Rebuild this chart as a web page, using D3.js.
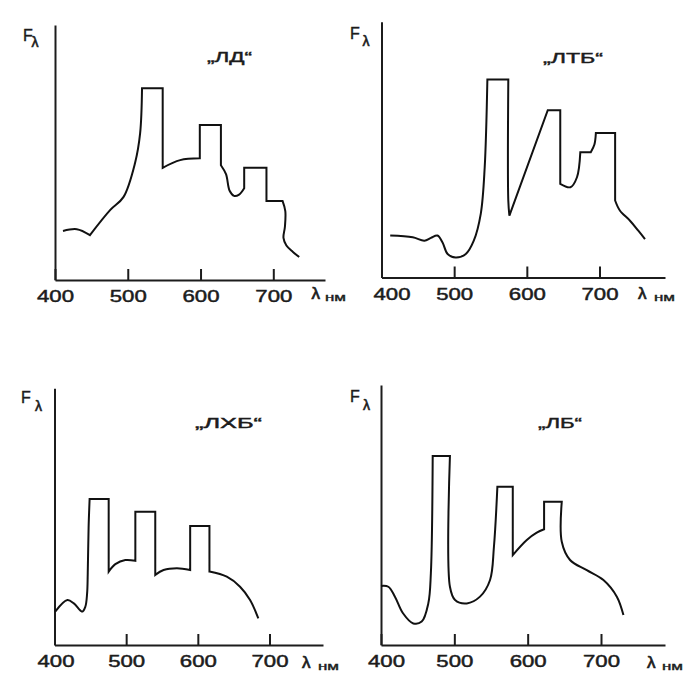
<!DOCTYPE html>
<html><head><meta charset="utf-8">
<script src="https://cdn.jsdelivr.net/npm/d3@7"></script>
<style>body{margin:0;background:#fff}svg{display:block}</style>
</head><body>
<svg id="c" width="700" height="693"></svg>
<script>
// ---- data (λ in nm, relative F in 0..100; third item 1 = sharp corner) ----
const titles = ["„ЛД“", "„ЛТБ“", "„ЛХБ“", "„ЛБ“"];
const tickLabels = [400, 500, 600, 700];
const axisUnit = "нм";

const spectrumLD = [
  [411,19.2],[430,19.9],[448,17.6,1],[476,27.5],[494,32.5],[510,45.9],[517,57.6],[519.6,75.2,1],
  [548,75.2,1],[548,44,1],[572,47],[599,47.7,1],[599,60.8,1],[628,60.8,1],[628,45,1],
  [635,41.5],[640,35],[646,33],[653,33.5],[660,36,1],[660,44,1],[690.6,44,1],[690.6,31,1],
  [712.7,31,1],[716.5,27],[716,21],[714,16.5],[718,13.5],[727,11],[735.6,9]
];
const spectrumLTB = [
  [412,16.4],[443,15.7],[459,14.4],[468,15.5],[477,16.4],[484,13.7],[491,9.2],[502,7.8],[516,9.2],
  [527,14.4],[536.6,24.9],[542,43],[545.7,77.4,1],[574.5,77.4,1],[574.5,30],[576,24.2,1],
  [628.8,65.4,1],[646,65.4,1],[646,36.6,1],[660,35.3],[669,39.2],[673.6,49,1],[688,49,1],
  [693,52],[695,56.5,1],[721.5,56.5,1],[721.5,30.1,1],[728,26.2],[742,22.2],[753.4,18.3],[762.6,15]
];
const spectrumLHB = [
  [401,13],[418,17.5],[427,16.2],[438.6,13],[443,14.9],[445.5,20.1],[446.4,28],[447.6,46],[449,56.9,1],
  [475.6,56.9,1],[475.6,28.6,1],[484.9,31.5],[498.8,33.1],[512.8,32.8,1],[512.8,51.9,1],
  [540.6,51.9,1],[540.6,27.3,1],[552.2,29.2],[570.8,29.9],[589.3,29.2,1],[589.3,46.4,1],
  [616.2,46.4,1],[616.2,28.6,1],[640.4,26.6],[658.9,22.7],[672.9,17.5],[684.4,10.4]
];
const spectrumLB = [
  [400,22.7],[410,22.4],[419,18.6],[430,12.2],[444,8.3],[455.5,9],[464.5,16],[468,27.6],[470.5,72.7,1],
  [494,72.7,1],[494,22.4],[501,17.3],[517,16],[535,18.6],[548.7,25],[554,37.8],[558.7,60.9,1],
  [579.7,60.9,1],[579.7,34.6,1],[598.8,40.4],[612.4,43.2],[622.4,44.5,1],[622.4,55.1,1],
  [646.5,55.1,1],[646.5,39.7],[657.8,32.7],[680.6,28.8],[703.3,25],[721.6,18.6],[730.6,11.5]
];
const spectra = [spectrumLD, spectrumLTB, spectrumLHB, spectrumLB];

// ---- layout (pixels) ----
const layout = [
  {x400:55,   x700:273.3, xEnd:325, base:280,   top:25,    shift400:0,  title:[207,62,45],  F:[23,41,31.5,47],   lam:[311.5,298.5,325,300.5]},
  {x400:381.5,x700:599.5, xEnd:665, base:277.5, top:21.7,  shift400:10, title:[543,63,60],  F:[350,39,362.5,46], lam:[638,298.5,654,300.5]},
  {x400:54.5, x700:269.5, xEnd:323, base:645,   top:388.3, shift400:1,  title:[195,428,67], F:[21,403,35,411],   lam:[302,667.5,318,669.5]},
  {x400:381,  x700:601,   xEnd:665, base:645,   top:385,   shift400:5,  title:[538,428,44], F:[350,402,363,410], lam:[647,667.5,662,669.5]}
];

const svg = d3.select("#c");
const FONT = "'Liberation Sans', Arial, sans-serif";
const INK = "#1c1c1c";

function splitRuns(pts){
  const out=[]; let cur=[pts[0]];
  for(let i=1;i<pts.length;i++){ const p=pts[i]; cur.push(p); if(p[2]){ out.push(cur); cur=[p]; } }
  if(cur.length>1) out.push(cur);
  return out;
}
function ink(sel, w){ return sel.attr("fill",INK).attr("stroke",INK).attr("stroke-width",w).attr("font-family",FONT); }

layout.forEach((L,i)=>{
  const g = svg.append("g");
  const x = d3.scaleLinear().domain([400,700]).range([L.x400,L.x700]);
  const xAx = d3.scaleLinear().domain([400, x.invert(L.xEnd)]).range([L.x400, L.xEnd]);
  const y = d3.scaleLinear().domain([0,100]).range([L.base, L.top]);

  // y axis
  g.append("g").attr("transform",`translate(${L.x400},0)`)
    .call(d3.axisLeft(y).tickValues([]).tickSizeOuter(0))
    .call(s=>s.select(".domain").attr("stroke",INK).attr("stroke-width",2));

  // x axis
  const ax = g.append("g").attr("transform",`translate(0,${L.base})`)
    .call(d3.axisBottom(xAx).tickValues(tickLabels).tickSizeInner(-11).tickSizeOuter(0).tickFormat(d3.format("d")));
  ax.select(".domain").attr("stroke",INK).attr("stroke-width",2);
  ax.selectAll(".tick line").attr("stroke",INK).attr("stroke-width",2);
  ax.selectAll(".tick text").attr("y",22).attr("dy",0)
    .attr("dx",d=>d===400?L.shift400:0)
    .attr("font-size",16)
    .attr("textLength",37).attr("lengthAdjust","spacingAndGlyphs")
    .call(s=>ink(s,0.45));

  // curve
  const line = d3.line().x(d=>x(d[0])).y(d=>y(d[1])).curve(d3.curveCatmullRom.alpha(0.5));
  const d = splitRuns(spectra[i]).map((r,k)=>{const s=line(r); return k? "L"+s.slice(1) : s;}).join("");
  g.append("path").attr("d",d).attr("fill","none").attr("stroke","#111")
    .attr("stroke-width",2).attr("stroke-linejoin","miter");

  // F_λ label
  g.append("text").attr("x",L.F[0]).attr("y",L.F[1]).text("F").attr("font-size",16).call(s=>ink(s,0.4));
  g.append("text").attr("x",L.F[2]).attr("y",L.F[3]).text("λ").attr("font-size",14).call(s=>ink(s,0.6));

  // λ нм label
  g.append("text").attr("x",L.lam[0]).attr("y",L.lam[1]).text("λ").attr("font-size",17).call(s=>ink(s,0.7));
  g.append("text").attr("x",L.lam[2]).attr("y",L.lam[3]).text(axisUnit)
    .attr("font-size",11).attr("textLength",21).attr("lengthAdjust","spacingAndGlyphs").call(s=>ink(s,0.4));

  // title
  g.append("text").attr("x",L.title[0]).attr("y",L.title[1]).text(titles[i])
    .attr("font-size",15).attr("textLength",L.title[2]).attr("lengthAdjust","spacingAndGlyphs")
    .call(s=>ink(s,0.45));
});
</script>
</body></html>
